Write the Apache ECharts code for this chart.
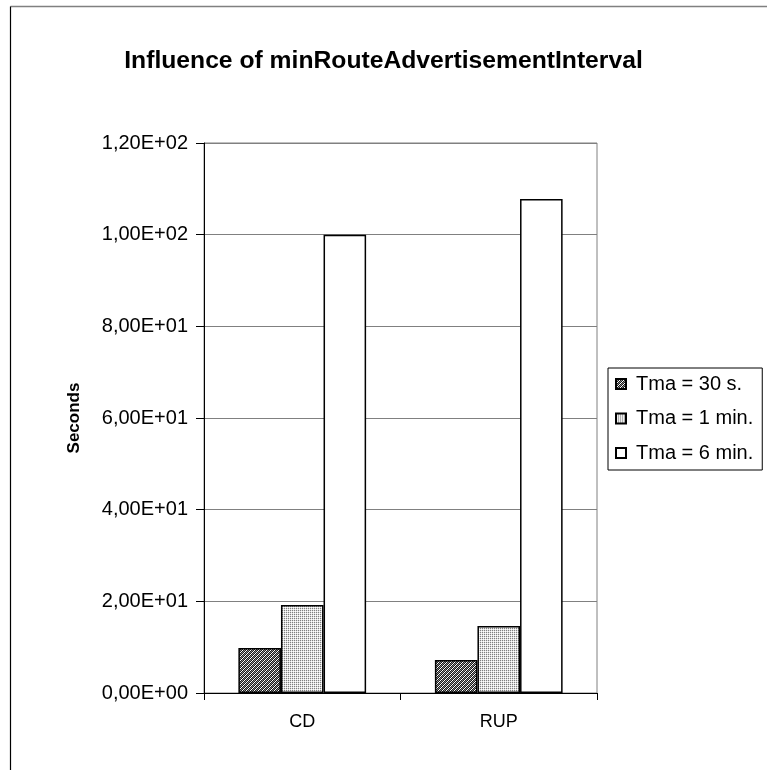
<!DOCTYPE html>
<html>
<head>
<meta charset="utf-8">
<script src="https://cdn.jsdelivr.net/npm/echarts@6/dist/echarts.min.js"></script>
<style>
html,body{margin:0;padding:0;background:#fff;}
#c{width:767px;height:770px;}
</style>
</head>
<body>
<div id="c"></div>
<script>
const categories = ['CD', 'RUP'];
const seriesNames = ['Tma = 30 s.', 'Tma = 1 min.', 'Tma = 6 min.'];
const tma30s = [9.8, 7.2];
const tma1min = [19.2, 14.6];
const tma6min = [100, 107.8];
const yTickLabels = ['0,00E+00', '2,00E+01', '4,00E+01', '6,00E+01', '8,00E+01', '1,00E+02', '1,20E+02'];

function makePattern(kind) {
  const c = document.createElement('canvas');
  c.width = 4; c.height = 4;
  const g = c.getContext('2d');
  g.fillStyle = '#fff';
  g.fillRect(0, 0, 4, 4);
  for (let y = 0; y < 4; y++) {
    for (let x = 0; x < 4; x++) {
      if (kind === 'dark') {
        const d = (x + y) % 4;
        g.fillStyle = d === 0 ? '#ffffff' : (d === 2 ? '#8a8a8a' : '#1a1a1a');
        g.fillRect(x, y, 1, 1);
      } else {
        if (x % 2 === 0 && y % 2 === 0) { g.fillStyle = '#808080'; g.fillRect(x, y, 1, 1); }
        else if ((x + y) % 2 === 1) { g.fillStyle = '#e0e0e0'; g.fillRect(x, y, 1, 1); }
      }
    }
  }
  return { image: c, repeat: 'repeat' };
}

const chart = echarts.init(document.getElementById('c'), null, { renderer: 'canvas' });
const font = 'Liberation Sans, Arial, sans-serif';
const barBorder = { borderColor: '#000', borderWidth: 1.5 };

chart.setOption({
  animation: false,
  backgroundColor: '#fff',
  textStyle: { fontFamily: font },
  title: {
    text: 'Influence of minRouteAdvertisementInterval',
    left: 'center',
    top: 44,
    textStyle: { fontFamily: font, fontSize: 24.7, fontWeight: 'bold', color: '#000' }
  },
  graphic: [
    { type: 'line', shape: { x1: 10.5, y1: 6.5, x2: 767, y2: 6.5 }, style: { stroke: '#808080', lineWidth: 1.5 } },
    { type: 'line', shape: { x1: 10.5, y1: 6.5, x2: 10.5, y2: 770 }, style: { stroke: '#000', lineWidth: 1.2 } }
  ],
  legend: {
    orient: 'vertical',
    left: 608,
    top: 368,
    padding: [5, 9, 6, 7],
    itemGap: 12.5,
    itemWidth: 10,
    itemHeight: 10,
    borderColor: '#000',
    borderWidth: 1,
    icon: 'rect',
    textStyle: { fontFamily: font, fontSize: 20, color: '#000', lineHeight: 22, padding: [0, 0, 0, 5] },
    data: seriesNames
  },
  grid: {
    left: 204, top: 143, right: 170, bottom: 77,
    show: true, borderColor: '#808080', borderWidth: 1, backgroundColor: '#fff'
  },
  xAxis: {
    type: 'category',
    data: categories,
    axisLine: { lineStyle: { color: '#000', width: 1 } },
    axisTick: { show: true, length: 7, lineStyle: { color: '#000' } },
    axisLabel: { fontFamily: font, fontSize: 18, color: '#000', margin: 20 }
  },
  yAxis: {
    type: 'value',
    min: 0, max: 120, interval: 20,
    name: 'Seconds',
    nameLocation: 'middle',
    nameGap: 121,
    nameTextStyle: { fontFamily: font, fontSize: 17, fontWeight: 'bold', color: '#000' },
    axisLine: { show: true, lineStyle: { color: '#000', width: 1 } },
    axisTick: { show: true, length: 8, lineStyle: { color: '#000' } },
    splitLine: { lineStyle: { color: '#808080', width: 1 } },
    axisLabel: {
      fontFamily: font, fontSize: 20, color: '#000', margin: 16,
      formatter: function (v) { return yTickLabels[Math.round(v / 20)]; }
    }
  },
  series: [
    { name: seriesNames[0], type: 'bar', data: tma30s, barGap: '0%', barCategoryGap: '35%',
      itemStyle: Object.assign({ color: makePattern('dark') }, barBorder) },
    { name: seriesNames[1], type: 'bar', data: tma1min, barGap: '0%', barCategoryGap: '35%',
      itemStyle: Object.assign({ color: makePattern('light') }, barBorder) },
    { name: seriesNames[2], type: 'bar', data: tma6min, barGap: '0%', barCategoryGap: '35%',
      itemStyle: Object.assign({ color: '#fff' }, barBorder) }
  ]
});
</script>
</body>
</html>
